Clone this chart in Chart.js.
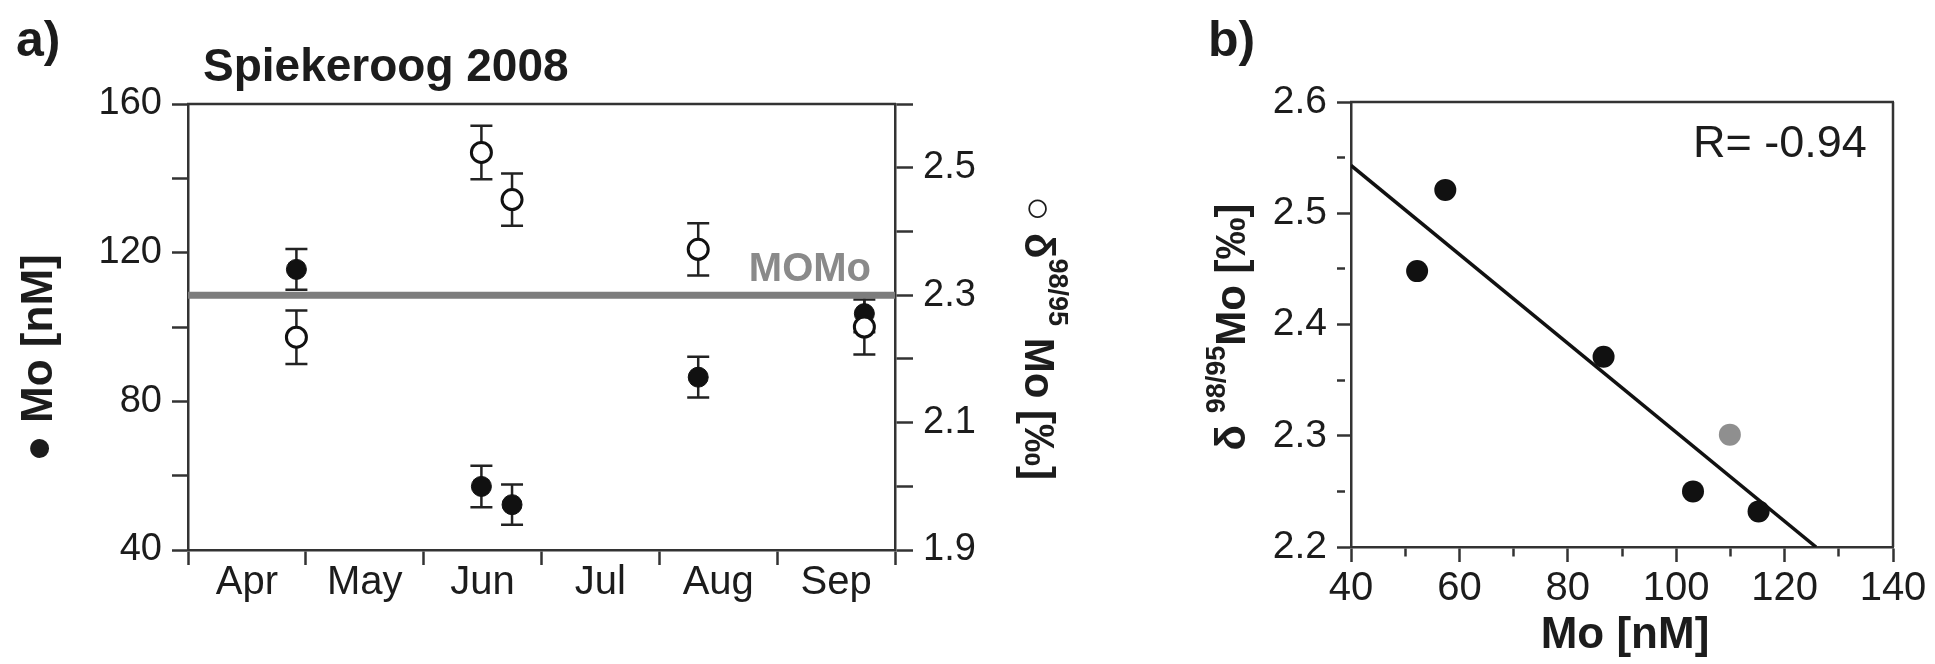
<!DOCTYPE html>
<html>
<head>
<meta charset="utf-8">
<script src="https://cdn.jsdelivr.net/npm/chart.js@4.4.1/dist/chart.umd.min.js"></script>
<style>
  body { margin: 0; background: #fff; }
  .panel { position: absolute; top: 0; height: 664px; }
  #boxA { left: 0; width: 1150px; }
  #boxB { left: 1150px; width: 785px; }
</style>
</head>
<body>
<div class="panel" id="boxA"><canvas id="chartA"></canvas></div>
<div class="panel" id="boxB"><canvas id="chartB"></canvas></div>
<script>
// ---- panel a: Spiekeroog 2008 time series ----
const months = ['Apr', 'May', 'Jun', 'Jul', 'Aug', 'Sep'];
const sampleTime = [0.92, 2.49, 2.75, 4.33, 5.74];      // months after 1 April
const moConc = [115.5, 57.1, 52.2, 86.5, 103.6];         // Mo [nM]
const moErr = [5.5, 5.6, 5.4, 5.5, 5.0];
const deltaMo = [2.234, 2.524, 2.45, 2.372, 2.25];       // d98/95Mo [permil]
const deltaErr = [0.042, 0.042, 0.041, 0.041, 0.043];
const momo = 2.3;
const moTicks = [40, 80, 120, 160];
const deltaTicks = [1.9, 2.1, 2.3, 2.5];

// ---- panel b: d98/95Mo vs Mo ----
const corrMo = [52.2, 57.4, 86.6, 103.1, 115.2];
const corrDelta = [2.448, 2.521, 2.371, 2.25, 2.232];
const momoMo = [109.9];
const momoDelta = [2.301];
const fitMo = [40, 125.8];
const fitDelta = [2.543, 2.2];
const corrXTicks = [40, 60, 80, 100, 120, 140];
const corrYTicks = [2.2, 2.3, 2.4, 2.5, 2.6];

const FONT = '"Liberation Sans", Arial, Helvetica, sans-serif';
const AX = '#333';
const TXT = '#1c1c1c';
Chart.defaults.font.family = FONT;
Chart.defaults.color = TXT;

function pts(xs, ys) { return xs.map((x, i) => ({ x: x, y: ys[i] })); }
function inList(list, v) { return list.some(t => Math.abs(t - v) < 1e-6); }

// text with optional superscript parts, centred on (x, y) along its direction
function drawRich(ctx, x, y, angle, parts, weight) {
  ctx.save();
  ctx.translate(x, y);
  ctx.rotate(angle);
  let total = 0;
  parts.forEach(p => {
    ctx.font = (weight || 'bold') + ' ' + p.size + 'px ' + FONT;
    p.w = ctx.measureText(p.t).width;
    total += p.w;
  });
  let cx = -total / 2;
  ctx.fillStyle = TXT;
  ctx.textAlign = 'left';
  ctx.textBaseline = 'alphabetic';
  parts.forEach(p => {
    ctx.font = (weight || 'bold') + ' ' + p.size + 'px ' + FONT;
    ctx.fillText(p.t, cx, -(p.rise || 0));
    cx += p.w;
  });
  ctx.restore();
}

const errorBars = {
  id: 'errorBars',
  beforeDatasetsDraw(chart) {
    const ctx = chart.ctx;
    chart.data.datasets.forEach((ds, i) => {
      if (!ds.errors) return;
      const meta = chart.getDatasetMeta(i);
      const ys = chart.scales[ds.yAxisID];
      ctx.save();
      ctx.strokeStyle = '#222';
      ctx.lineWidth = 2.5;
      ds.data.forEach((p, j) => {
        const x = meta.data[j].x;
        const y1 = ys.getPixelForValue(p.y - ds.errors[j]);
        const y2 = ys.getPixelForValue(p.y + ds.errors[j]);
        ctx.beginPath();
        ctx.moveTo(x, y1); ctx.lineTo(x, y2);
        ctx.moveTo(x - 11, y1); ctx.lineTo(x + 11, y1);
        ctx.moveTo(x - 11, y2); ctx.lineTo(x + 11, y2);
        ctx.stroke();
      });
      ctx.restore();
    });
  }
};

function frame(ctx, area, right) {
  ctx.save();
  ctx.strokeStyle = AX;
  ctx.lineWidth = 2.5;
  ctx.beginPath();
  ctx.moveTo(area.left - 1, area.top);
  ctx.lineTo(area.right + 1, area.top);
  if (right) {
    ctx.moveTo(area.right, area.top);
    ctx.lineTo(area.right, area.bottom);
  }
  ctx.stroke();
  ctx.restore();
}

const decoA = {
  id: 'decoA',
  afterDraw(chart) {
    const ctx = chart.ctx;
    frame(ctx, chart.chartArea, false);
    ctx.save();
    ctx.fillStyle = TXT;
    ctx.font = 'bold 50px ' + FONT;
    ctx.fillText('a)', 16, 56);
    ctx.font = 'bold 46px ' + FONT;
    ctx.fillText('Spiekeroog 2008', 203, 81);
    ctx.fillStyle = '#8a8a8a';
    ctx.font = 'bold 40px ' + FONT;
    ctx.textAlign = 'right';
    ctx.fillText('MOMo', chart.chartArea.right - 24, chart.scales.yDelta.getPixelForValue(momo) - 14);
    ctx.restore();
    drawRich(ctx, 52, 358, -Math.PI / 2, [{ t: '\u25CF Mo [nM]', size: 44 }]);
    drawRich(ctx, 1025, 338, Math.PI / 2, [
      { t: '\u25CB \u03B4', size: 42 },
      { t: '98/95', size: 27, rise: 24 },
      { t: ' Mo [\u2030]', size: 42 }
    ]);
  }
};

const decoB = {
  id: 'decoB',
  afterDraw(chart) {
    const ctx = chart.ctx;
    frame(ctx, chart.chartArea, true);
    ctx.save();
    ctx.fillStyle = TXT;
    ctx.font = 'bold 50px ' + FONT;
    ctx.fillText('b)', 58, 56);
    ctx.font = '45px ' + FONT;
    ctx.fillText('R= -0.94', 543, 157);
    ctx.restore();
    drawRich(ctx, 475, 648, 0, [{ t: 'Mo [nM]', size: 44 }]);
    drawRich(ctx, 95, 327, -Math.PI / 2, [
      { t: '\u03B4 ', size: 42 },
      { t: '98/95', size: 27, rise: 20 },
      { t: 'Mo [\u2030]', size: 42 }
    ]);
  }
};

function axisGrid(len, colorFn, dashFn) {
  return {
    drawOnChartArea: false, drawTicks: true, tickLength: len, tickWidth: 2.5,
    tickColor: colorFn || AX, tickBorderDash: dashFn || []
  };
}
// shorter minor ticks in panel b: dash keeps only the part next to the axis
function minorDash(list) {
  return c => (c.tick && !inList(list, c.tick.value)) ? [8, 60] : [];
}
const border = { display: true, color: AX, width: 2.5 };

// Panel a
new Chart(document.getElementById('chartA'), {
  type: 'scatter',
  data: {
    datasets: [
      {
        label: 'Mo', data: pts(sampleTime, moConc), yAxisID: 'yMo', errors: moErr,
        pointRadius: 10, pointBackgroundColor: '#111', pointBorderColor: '#111', pointBorderWidth: 1, order: 1
      },
      {
        label: 'delta', data: pts(sampleTime, deltaMo), yAxisID: 'yDelta', errors: deltaErr,
        pointRadius: 10, pointBackgroundColor: '#fff', pointBorderColor: '#111', pointBorderWidth: 3, order: 0
      },
      {
        type: 'line', label: 'MOMo', data: [{ x: 0, y: momo }, { x: months.length, y: momo }], yAxisID: 'yDelta',
        borderColor: '#7d7d7d', borderWidth: 7, pointRadius: 0, order: 5
      }
    ]
  },
  options: {
    responsive: true,
    maintainAspectRatio: false,
    animation: false,
    layout: { padding: { top: 104, left: 0, right: 0, bottom: 0 } },
    plugins: { legend: { display: false }, tooltip: { enabled: false } },
    scales: {
      x: {
        type: 'linear', min: 0, max: months.length,
        afterBuildTicks: s => {
          s.ticks = [];
          for (let k = 0; k <= months.length * 2; k++) s.ticks.push({ value: k / 2 });
        },
        ticks: {
          autoSkip: false, maxRotation: 0, padding: -6,
          font: { size: 40 },
          callback: v => Number.isInteger(v) ? '' : months[Math.floor(v)]
        },
        grid: axisGrid(15, c => (c.tick && Number.isInteger(c.tick.value)) ? AX : 'rgba(0,0,0,0)'),
        border: border,
        afterFit: s => { s.height = 114; }
      },
      yMo: {
        position: 'left', min: 40, max: 160,
        ticks: { stepSize: 20, padding: 10, font: { size: 38 }, callback: v => inList(moTicks, v) ? String(v) : '' },
        grid: axisGrid(16),
        border: border,
        afterFit: s => { s.width = 188; }
      },
      yDelta: {
        position: 'right', min: 1.9, max: 2.6,
        ticks: {
          stepSize: 0.1, padding: 10, font: { size: 38 },
          callback: v => inList(deltaTicks, v) ? (Math.round(v * 10) / 10).toFixed(1) : ''
        },
        grid: axisGrid(18),
        border: border,
        afterFit: s => { s.width = 255; }
      }
    }
  },
  plugins: [errorBars, decoA]
});

// Panel b
new Chart(document.getElementById('chartB'), {
  type: 'scatter',
  data: {
    datasets: [
      {
        label: 'samples', data: pts(corrMo, corrDelta),
        pointRadius: 11, pointBackgroundColor: '#111', pointBorderColor: '#111', pointBorderWidth: 0, order: 1
      },
      {
        label: 'MOMo', data: pts(momoMo, momoDelta),
        pointRadius: 11, pointBackgroundColor: '#8f8f8f', pointBorderColor: '#8f8f8f', pointBorderWidth: 0, order: 2
      },
      {
        type: 'line', label: 'fit', data: pts(fitMo, fitDelta),
        borderColor: '#111', borderWidth: 3.5, pointRadius: 0, order: 3
      }
    ]
  },
  options: {
    responsive: true,
    maintainAspectRatio: false,
    animation: false,
    layout: { padding: { top: 102, left: 0, right: 42, bottom: 0 } },
    plugins: { legend: { display: false }, tooltip: { enabled: false } },
    scales: {
      x: {
        type: 'linear', min: 40, max: 140,
        ticks: {
          stepSize: 10, autoSkip: false, maxRotation: 0, padding: 3, font: { size: 40 },
          callback: v => inList(corrXTicks, v) ? String(v) : ''
        },
        grid: axisGrid(15, AX, minorDash(corrXTicks)),
        border: border,
        afterFit: s => { s.height = 117; }
      },
      y: {
        min: 2.2, max: 2.6,
        ticks: {
          stepSize: 0.05, padding: 10, font: { size: 39 },
          callback: v => inList(corrYTicks, v) ? (Math.round(v * 10) / 10).toFixed(1) : ''
        },
        grid: axisGrid(14, AX, minorDash(corrYTicks)),
        border: border,
        afterFit: s => { s.width = 201; }
      }
    }
  },
  plugins: [decoB]
});
</script>
</body>
</html>
